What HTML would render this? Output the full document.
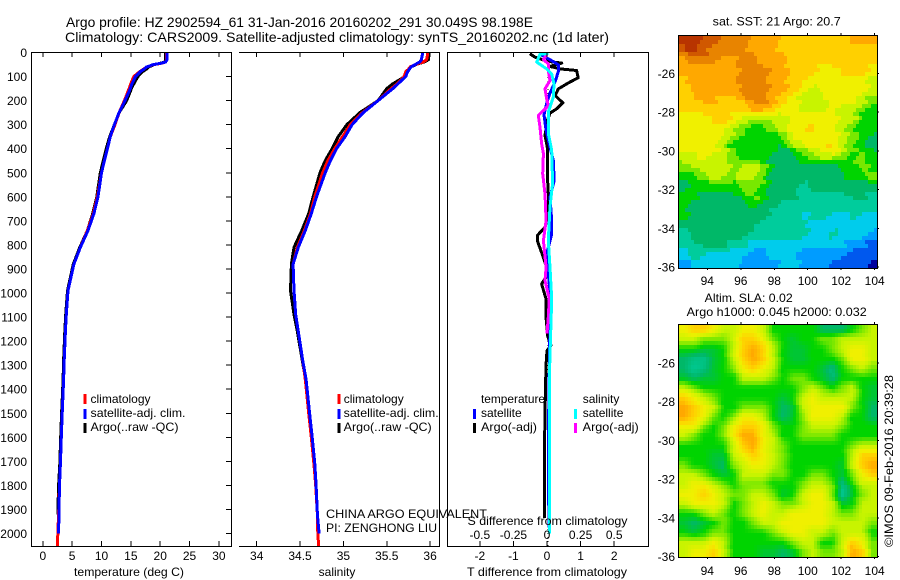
<!DOCTYPE html>
<html lang="en">
<head>
<meta charset="utf-8">
<title>Argo profile 2902594_61</title>
<style>
html,body{margin:0;padding:0;background:#fff;width:900px;height:580px;overflow:hidden}
svg{display:block}
text{font-family:"Liberation Sans",sans-serif;fill:#000}
line,polyline{shape-rendering:crispEdges}
</style>
</head>
<body>
<svg id="fig" xmlns="http://www.w3.org/2000/svg" width="900" height="580" viewBox="0 0 900 580"></svg>
<script>
/* ---------- chart data ---------- */
const tempTicks = [0, 5, 10, 15, 20, 25, 30];
const salTicks = [34, 34.5, 35, 35.5, 36];
const tDiffTicks = [-2, -1, 0, 1, 2];
const sDiffTicks = [-0.5, -0.25, 0, 0.25, 0.5];
const depthTicks = [0,100,200,300,400,500,600,700,800,900,1000,1100,1200,1300,1400,1500,1600,1700,1800,1900,2000];
const lonTicks = [94, 96, 98, 100, 102, 104];
const latTicks = [-26, -28, -30, -32, -34, -36];

const profileDepth = [0,10,30,40,45,50,60,70,80,100,130,150,200,250,300,350,400,450,500,600,670,740,810,880,990,1090,1160,1280,1360,1500,1600,1710,1800,1920,2000];
const tempClim = [21.1,21.1,21.05,20.9,20.2,19.0,17.7,17.1,16.5,15.5,15.0,14.7,13.9,13.0,12.3,11.5,11.0,10.5,10.0,9.3,8.6,7.6,6.4,5.3,4.3,4.0,3.85,3.65,3.55,3.3,3.15,3.0,2.85,2.7,2.55];
const tempSat = [21.2,21.2,21.15,20.9,20.1,18.9,17.7,17.2,16.6,15.8,15.2,14.9,14.0,13.0,12.2,11.5,11.0,10.5,10.0,9.4,8.7,7.7,6.4,5.3,4.3,4.0,3.85,3.65,3.55,3.3,3.15,3.0,2.85,2.75,2.7];
const tempArgo = [20.9,20.9,20.9,20.8,20.0,19.0,18.1,17.6,17.0,16.2,15.5,15.1,14.3,13.0,12.2,11.4,10.8,10.3,9.8,9.2,8.5,7.6,6.3,5.2,4.2,3.9,3.75,3.55,3.45,3.2,3.05,2.9,2.7,2.55];
const salClim = [35.97,35.97,35.96,35.92,35.87,35.83,35.77,35.75,35.72,35.7,35.62,35.55,35.4,35.22,35.08,34.99,34.9,34.82,34.76,34.67,34.62,34.55,34.47,34.42,34.43,34.45,34.48,34.53,34.56,34.6,34.63,34.66,34.68,34.7,34.705,34.71];
const salSat = [35.91,35.91,35.9,35.88,35.85,35.83,35.78,35.76,35.74,35.72,35.63,35.57,35.4,35.23,35.1,35.02,34.92,34.85,34.79,34.69,34.63,34.56,34.48,34.42,34.43,34.45,34.48,34.53,34.57,34.61,34.64,34.67,34.685,34.7,34.72];
const salArgo = [35.98,35.98,35.98,35.93,35.88,35.84,35.78,35.76,35.73,35.71,35.57,35.5,35.4,35.19,35.04,34.94,34.87,34.79,34.73,34.65,34.6,34.52,34.43,34.4,34.39,34.43,34.47,34.525,34.565,34.605,34.635,34.665,34.68,34.7];
const clipDepthEnd = [2055];
const salEnd = [34.715];

const tArgoDepth = [5,19,36,44,58,68,75,105,123,151,179,209,234,252,283,345,394,504,588,671,726,761,782,851,893,920,962,1024,1100,1180,1218,1240,1300,1500,1700,1935];
const tArgoDiff = [-0.51,-0.36,-0.01,0.44,0.09,0.39,0.88,0.93,0.68,0.34,0.24,0.47,0.29,0.09,0.01,-0.06,0.01,0.01,0.04,0.04,-0.06,-0.29,-0.29,-0.11,-0.01,0.04,-0.16,-0.03,-0.03,0.02,0.12,0.0,-0.03,-0.06,-0.08,-0.08];
const tSatDepth = [7,30,51,79,121,169,211,259,322,394,450,533,602,699,754,837,920,1024,1200,1500,1800,2000];
const tSatDiff = [-0.21,0.09,0.34,0.34,0.24,0.09,-0.01,-0.09,-0.03,0.09,0.19,0.21,0.09,0.14,0.14,-0.01,0.04,0.11,0.08,0.05,0.04,0.07];
const sArgoDepth = [7,30,47,75,117,151,193,221,262,310,379,420,504,588,699,782,893,948,1024,1100,1168];
const sArgoDiff = [-0.002,-0.027,0.01,0.01,0.022,-0.015,-0.002,0.01,-0.065,-0.052,-0.04,-0.027,-0.032,-0.015,-0.007,-0.027,-0.007,-0.015,0.017,0.01,0.0];
const sSatDepth = [4,7,40,68,90,130,185,248,337,406,545,642,782,893,1024,1300,1600,1900,2000];
const sSatDiff = [0.01,-0.052,-0.077,-0.002,0.035,0.052,0.047,0.01,0.01,0.035,0.042,0.022,0.01,0.022,0.035,0.02,0.017,0.017,0.017];

const mapLevels = ['#00009c','#0058ee','#009cff','#00ccec','#00cc9c','#00b868','#00d400','#78e800','#c8f400','#f0f000','#ffd000','#ffa800','#e88400','#d05800','#b83400'];

const sstGrid = [
[14,14,13,13,12,12,12,11,11,11,10,10,10,10,10,10,10,11,11,11],
[13,14,13,12,12,12,12,11,11,11,10,10,10,10,10,10,10,10,10,10],
[11,12,12,12,11,11,12,12,11,11,11,10,10,10,10,10,10,10,10,10],
[11,11,11,11,11,11,12,12,12,11,11,10,10,10,9,9,10,10,10,9],
[10,11,11,11,11,11,12,12,12,11,11,10,10,9,9,9,9,9,9,8],
[10,11,11,11,11,11,12,12,12,11,11,10,9,8,9,9,9,9,9,8],
[10,10,11,11,10,10,11,12,12,11,10,9,8,8,8,9,9,9,8,7],
[10,10,10,10,10,10,10,11,11,10,9,9,8,8,8,9,8,8,7,6],
[9,9,9,10,10,9,8,8,8,8,8,9,9,9,9,9,8,8,6,6],
[9,9,9,9,9,8,7,6,6,7,8,9,9,10,9,9,8,7,6,6],
[9,9,9,9,8,7,6,6,6,6,7,9,9,9,9,9,8,7,6,5],
[9,9,9,9,8,6,6,6,6,6,5,7,8,9,9,10,8,7,6,5],
[8,8,9,8,8,7,6,6,6,5,5,5,6,7,8,8,7,6,7,6],
[7,8,8,8,8,7,8,8,7,5,5,5,5,5,5,5,6,6,7,6],
[6,6,7,8,8,7,8,8,7,5,5,5,5,5,5,5,5,6,6,7],
[5,6,6,6,6,6,7,7,6,5,5,5,4,5,5,5,5,5,5,5],
[6,6,5,5,5,5,6,7,6,5,5,5,4,4,4,4,4,5,5,4],
[6,5,5,5,5,5,5,6,5,5,4,4,4,4,4,4,4,4,4,4],
[6,5,5,5,5,5,5,5,5,4,4,4,3,4,4,3,3,4,3,3],
[5,5,5,5,5,5,5,5,4,4,4,4,4,3,3,3,3,3,3,3],
[4,5,5,5,5,5,5,4,4,4,4,4,4,3,3,4,3,3,3,2],
[4,4,5,5,5,4,4,3,3,3,3,3,3,3,3,3,3,2,2,1],
[3,4,4,3,3,3,3,2,2,3,3,3,2,2,2,2,2,1,1,1],
[2,3,3,3,3,3,2,2,2,2,3,3,2,2,2,1,1,1,1,0]
];
const slaGrid = [
[9,10,10,9,8,8,9,9,8,6,6,6,6,6,5,5,5,6,7,8],
[8,8,7,7,7,8,10,10,9,7,6,5.5,6,6,7,7,8,8,8,8],
[6,6,5.5,5.5,6,8,10,11,10,8,6,5.5,5.5,6,6,7,8,9,9,8],
[5,4.5,4.5,5.5,6,8,10,11,10,8,6,5.5,5.5,6,6,6,7,9,9,8],
[5,4.2,4.5,5.5,6,7,9,10,9,8,6,6,6,6,5.5,4.6,6,7,8,7],
[5.5,5,5.5,5.5,6,6,8,8,8,7,6,7,7,6,5.5,4.8,6,6,6,6],
[8,7,6,6,6,6,6,6,6,6,6,6,7,8,7,6,7,8,6,5.5],
[10,9,8,7,6,6,6,6,6,6,5.5,6,8,9,8,8,8,8,6,5.5],
[11,10,9,8,6,6,7,7,7,6,5,5.5,8,9,9,9,9,7,6,5],
[11,10,9,7,6,7,9,9,8,6,5,5.5,7,9,9,9,8,6,6,5],
[9,9,7,6,7,9,10,10,9,7,6,6,7,8,8,8,7,6,6,6],
[8,7,6,6,7,9,11,11,9,8,6,6,7,7,7,7,6,6,6,6],
[6,6,6,6,6,8,10,11,9,8,7,6,6,6,6,6,6,7,8,8],
[6,6,6,5.5,5.5,8,9,10,9,8,7,6,6,6,6,6,6,8,10,10],
[7,6,6,5.5,5,7,8,9,9,8,7,6,6,6,6,6,5.5,8,10,11],
[8,8,7,6,5.5,6,8,8,8,7,7,6,6,7,7,6,5.5,7,9,10],
[8,9,9,8,7,6,7,7,7,6,6,6,7,8,8,7,4.5,6,8,8],
[9,9,10,9,8,7,7,8,8,7,5.5,6,8,9,9,7,4.2,5.5,7,8],
[8,9,9,9,8,6,7,8,9,8,7,7,8,9,9,8,5.5,6,8,8],
[6,6,7,8,7,6,7,8,9,8,8,9,9,9,9,8,7,7,8,8],
[5.5,5,5.5,6,7,6,6,7,8,8,9,9,9,9,9,8,8,8,8,7],
[6,5.5,6,7,7,6,6,6,6,7,8,9,9,8,8,7,8,8,8,6],
[8,8,8,9,8,6,6,6,6,6,6,7,8,8,6,6,8,10,9,7],
[8,9,9,10,8,6,6,6,5.5,5.5,5,5.5,7,8,7,7,8,11,10,7]
];

/* ---------- helpers ---------- */
const svg = document.getElementById('fig');
const NS = 'http://www.w3.org/2000/svg';
function mk(parent, tag, attrs, name, inter) {
  const el = document.createElementNS(NS, tag);
  for (const k in attrs) el.setAttribute(k, attrs[k]);
  
  
  parent.appendChild(el);
  return el;
}
function label(parent, x, y, str, name, opts) {
  const o = opts || {};
  const a = {x: x, y: y, 'font-size': o.size || 12};
  if (o.anchor) a['text-anchor'] = o.anchor;
  if (o.width) { a.textLength = o.width; a.lengthAdjust = 'spacingAndGlyphs'; }
  if (o.transform) a.transform = o.transform;
  const t = mk(parent, 'text', a, name, false);
  t.textContent = str;
  return t;
}
function hline(p, x1, x2, y, name) { return mk(p, 'line', {x1: x1, x2: x2, y1: y, y2: y, stroke: '#000', 'stroke-width': 1}, name, false); }
function vline(p, x, y1, y2, name) { return mk(p, 'line', {x1: x, x2: x, y1: y1, y2: y2, stroke: '#000', 'stroke-width': 1}, name, false); }

/* ---------- axis scales ---------- */
const yDepth = d => 52.5 + d * 0.2405;
const xTemp = t => 42.8 + t * 5.87;
const xSal = s => 256.7 + (s - 34) * 86.7;
const xTDiff = t => 547 + t * 33.6;
const xSDiff = s => 547 + s * 134.4;
const xLon = lon => 707.3 + (lon - 94) * 16.74;
const yLat1 = lat => 73.5 + (-26 - lat) * 19.35;
const yLat2 = lat => 363 + (-26 - lat) * 19.35;

function polyline(parent, xs, ds, xf, color, w, name) {
  const n = Math.min(xs.length, ds.length);
  let pts = '';
  for (let i = 0; i < n; i++) pts += xf(xs[i]).toFixed(1) + ',' + yDepth(ds[i]).toFixed(1) + ' ';
  return mk(parent, 'polyline', {points: pts.trim(), fill: 'none', stroke: color, 'stroke-width': w, 'stroke-linejoin': 'round'}, name, false);
}

/* ---------- titles ---------- */
label(svg, 66, 27, 'Argo profile: HZ 2902594_61 31-Jan-2016 20160202_291 30.049S 98.198E', 'title-line-1', {size: 14, width: 467});
label(svg, 65, 42, 'Climatology: CARS2009. Satellite-adjusted climatology: synTS_20160202.nc (1d later)', 'title-line-2', {size: 14, width: 544});

/* ---------- panel 1: temperature ---------- */
const p1 = mk(svg, 'g', {}, 'temperature-panel', false);
polyline(p1, tempArgo, profileDepth, xTemp, '#000', 3, 'temperature-argo-line');
polyline(p1, tempClim.concat([2.5]), profileDepth.concat(clipDepthEnd), xTemp, '#f00', 3, 'temperature-climatology-line');
polyline(p1, tempSat, profileDepth, xTemp, '#00f', 3, 'temperature-satellite-line');
hline(p1, 31, 232, 52.5, 'temperature-top-axis');
hline(p1, 31, 232, 546.5, 'temperature-bottom-axis');
vline(p1, 31.5, 52, 547, 'temperature-left-axis');
vline(p1, 231.5, 52, 547, 'temperature-right-axis');
for (const d of depthTicks) {
  hline(p1, 226, 231, yDepth(d), 'depth-tick');
  label(p1, 27, yDepth(d) + 4.5, String(d), 'depth-tick-label', {anchor: 'end'});
}
for (const t of tempTicks) {
  vline(p1, xTemp(t), 52, 57, 'temperature-top-tick');
  vline(p1, xTemp(t), 541, 546, 'temperature-bottom-tick');
  label(p1, xTemp(t), 560, String(t), 'temperature-tick-label', {anchor: 'middle'});
}
label(p1, 74, 576, 'temperature (deg C)', 'temperature-axis-title', {width: 110});

/* ---------- panel 2: salinity ---------- */
const p2 = mk(svg, 'g', {}, 'salinity-panel', false);
polyline(p2, salArgo, profileDepth, xSal, '#000', 3, 'salinity-argo-line');
polyline(p2, salClim.slice(0, 35).concat(salEnd), profileDepth.concat(clipDepthEnd), xSal, '#f00', 3, 'salinity-climatology-line');
polyline(p2, salSat, profileDepth, xSal, '#00f', 3, 'salinity-satellite-line');
hline(p2, 239, 440, 52.5, 'salinity-top-axis');
hline(p2, 239, 440, 546.5, 'salinity-bottom-axis');
vline(p2, 439.5, 52, 547, 'salinity-right-axis');
for (const s of salTicks) {
  vline(p2, xSal(s), 52, 57, 'salinity-top-tick');
  vline(p2, xSal(s), 541, 546, 'salinity-bottom-tick');
  label(p2, xSal(s), 560, String(s), 'salinity-tick-label', {anchor: 'middle'});
}
label(p2, 337, 576, 'salinity', 'salinity-axis-title', {anchor: 'middle'});
label(p2, 326, 518, 'CHINA ARGO EQUIVALENT', 'institution-label', {width: 161});
label(p2, 326, 532, 'PI: ZENGHONG LIU', 'pi-label', {width: 111});

/* ---------- panel 3: differences ---------- */
const p3 = mk(svg, 'g', {}, 'difference-panel', false);
mk(p3, 'line', {x1: xTDiff(0) + 1, x2: xTDiff(0) + 1, y1: 53, y2: 546, stroke: '#000', 'stroke-width': 1, 'stroke-dasharray': '1 3'}, 'zero-reference-line', false);
polyline(p3, tArgoDiff, tArgoDepth, xTDiff, '#000', 3, 'temperature-argo-difference-line');
polyline(p3, tSatDiff, tSatDepth, xTDiff, '#00f', 3, 'temperature-satellite-difference-line');
polyline(p3, sArgoDiff, sArgoDepth, xSDiff, '#f0f', 3, 'salinity-argo-difference-line');
polyline(p3, sSatDiff, sSatDepth, xSDiff, '#0ff', 3, 'salinity-satellite-difference-line');
hline(p3, 447, 649, 52.5, 'difference-top-axis');
hline(p3, 447, 649, 546.5, 'difference-bottom-axis');
vline(p3, 447.5, 52, 547, 'difference-left-axis');
vline(p3, 648.5, 52, 547, 'difference-right-axis');
for (const t of tDiffTicks) {
  vline(p3, xTDiff(t), 52, 57, 'difference-top-tick');
  vline(p3, xTDiff(t), 541, 546, 'difference-bottom-tick');
  label(p3, xTDiff(t), 560, String(t), 't-difference-tick-label', {anchor: 'middle'});
}
for (const s of sDiffTicks) {
  label(p3, xSDiff(s), 539, String(s), 's-difference-tick-label', {anchor: 'middle'});
}
label(p3, 467.5, 525, 'S difference from climatology', 's-difference-axis-title', {width: 160});
label(p3, 467, 576, 'T difference from climatology', 't-difference-axis-title', {width: 160});

/* ---------- legends ---------- */
function legendMark(parent, x, y, color, name) {
  return mk(parent, 'rect', {x: x, y: y, width: 3, height: 10, fill: color}, name, false);
}
const lg1 = mk(svg, 'g', {}, 'temperature-legend', false);
legendMark(lg1, 83.5, 394, '#f00', 'legend-swatch-climatology');
label(lg1, 90.5, 403, 'climatology', 'legend-label-climatology');
legendMark(lg1, 83.5, 409, '#00f', 'legend-swatch-satellite-adj');
label(lg1, 90.5, 417, 'satellite-adj. clim.', 'legend-label-satellite-adj', {width: 95});
legendMark(lg1, 83.5, 423, '#000', 'legend-swatch-argo');
label(lg1, 90.5, 431, 'Argo(..raw -QC)', 'legend-label-argo', {width: 88});

const lg2 = mk(svg, 'g', {}, 'salinity-legend', false);
legendMark(lg2, 337.5, 394, '#f00', 'legend-swatch-climatology');
label(lg2, 343.7, 403, 'climatology', 'legend-label-climatology');
legendMark(lg2, 337.5, 409, '#00f', 'legend-swatch-satellite-adj');
label(lg2, 343.7, 417, 'satellite-adj. clim.', 'legend-label-satellite-adj', {width: 95});
legendMark(lg2, 337.5, 423, '#000', 'legend-swatch-argo');
label(lg2, 343.7, 431, 'Argo(..raw -QC)', 'legend-label-argo', {width: 88});

const lg3 = mk(svg, 'g', {}, 'difference-legend', false);
label(lg3, 481, 403, 'temperature', 'legend-heading-temperature', {width: 64});
label(lg3, 582.7, 403, 'salinity', 'legend-heading-salinity');
legendMark(lg3, 473, 409, '#00f', 'legend-swatch-temperature-satellite');
label(lg3, 481, 417, 'satellite', 'legend-label-temperature-satellite');
legendMark(lg3, 473, 423, '#000', 'legend-swatch-temperature-argo');
label(lg3, 481, 431, 'Argo(-adj)', 'legend-label-temperature-argo', {width: 56});
legendMark(lg3, 574, 409, '#0ff', 'legend-swatch-salinity-satellite');
label(lg3, 582.7, 417, 'satellite', 'legend-label-salinity-satellite');
legendMark(lg3, 574, 423, '#f0f', 'legend-swatch-salinity-argo');
label(lg3, 582.7, 431, 'Argo(-adj)', 'legend-label-salinity-argo', {width: 56});

/* ---------- maps ---------- */
function sampleGrid(grid, u, v) {
  const rows = grid.length, cols = grid[0].length;
  const gx = Math.max(0, Math.min(cols - 1.001, u * cols - 0.5));
  const gy = Math.max(0, Math.min(rows - 1.001, v * rows - 0.5));
  const i = Math.floor(gx), j = Math.floor(gy), fx = gx - i, fy = gy - j;
  return grid[j][i] * (1 - fx) * (1 - fy) + grid[j][i + 1] * fx * (1 - fy) +
         grid[j + 1][i] * (1 - fx) * fy + grid[j + 1][i + 1] * fx * fy;
}
function hexToRgb(h) {
  return [parseInt(h.slice(1, 3), 16), parseInt(h.slice(3, 5), 16), parseInt(h.slice(5, 7), 16)];
}
function levelColor(val, smooth) {
  const v = Math.max(0, Math.min(mapLevels.length - 1, val));
  if (!smooth) return mapLevels[Math.round(v)];
  const i = Math.min(mapLevels.length - 2, Math.floor(v)), f = v - i;
  const a = hexToRgb(mapLevels[i]), b = hexToRgb(mapLevels[i + 1]);
  return 'rgb(' + Math.round(a[0] + (b[0] - a[0]) * f) + ',' + Math.round(a[1] + (b[1] - a[1]) * f) + ',' + Math.round(a[2] + (b[2] - a[2]) * f) + ')';
}
function drawMap(grid, top, yLat, mapName, cellName, labelBaseline, smooth) {
  const g = mk(svg, 'g', {'shape-rendering': 'crispEdges'}, mapName, false);
  const left = 679, w = 198, h = 232, sx = 3, sy = 4;
  const stairStep = smooth ? 0.5 : 2;
  for (let py = 0; py < h; py += sy) {
    const stair = ((py / sy) % 4 - 1.5) * stairStep;
    for (let px = 0; px < w; px += sx) {
      const val = sampleGrid(grid, (px + sx / 2 + stair) / w, (py + sy / 2) / h);
      mk(g, 'rect', {x: left + px, y: top + py, width: sx, height: sy, fill: levelColor(val, smooth)}, cellName, false);
    }
  }
  const a = mk(svg, 'g', {}, mapName + '-axes', false);
  mk(a, 'rect', {x: left - 0.5, y: top - 0.5, width: w + 1, height: h + 1, fill: 'none', stroke: '#000', 'stroke-width': 1}, mapName + '-frame', false);
  for (const lon of lonTicks) {
    vline(a, xLon(lon), top - 3, top, 'map-top-tick');
    vline(a, xLon(lon), top + h, top + h + 2, 'map-bottom-tick');
    label(a, xLon(lon), labelBaseline, String(lon), 'longitude-tick-label', {anchor: 'middle'});
  }
  for (const lat of latTicks) {
    hline(a, left + w, left + w + 2, yLat(lat), 'map-right-tick');
    label(a, 675, yLat(lat) + 4.5, String(lat), 'latitude-tick-label', {anchor: 'end'});
  }
}
drawMap(sstGrid, 36, yLat1, 'sst-map', 'sst-cell', 285, false);
drawMap(slaGrid, 325, yLat2, 'sla-map', 'sla-cell', 575, true);
label(svg, 712.7, 25.7, 'sat. SST: 21 Argo: 20.7', 'sst-map-title', {width: 128});
label(svg, 704.7, 302, 'Altim. SLA: 0.02', 'sla-map-title', {width: 88});
label(svg, 686.7, 316, 'Argo h1000: 0.045 h2000: 0.032', 'steric-height-label', {width: 180});
label(svg, 893, 547, '©IMOS 09-Feb-2016 20:39:28', 'imos-timestamp', {width: 172, transform: 'rotate(-90 893 547)'});
</script>
</body>
</html>
